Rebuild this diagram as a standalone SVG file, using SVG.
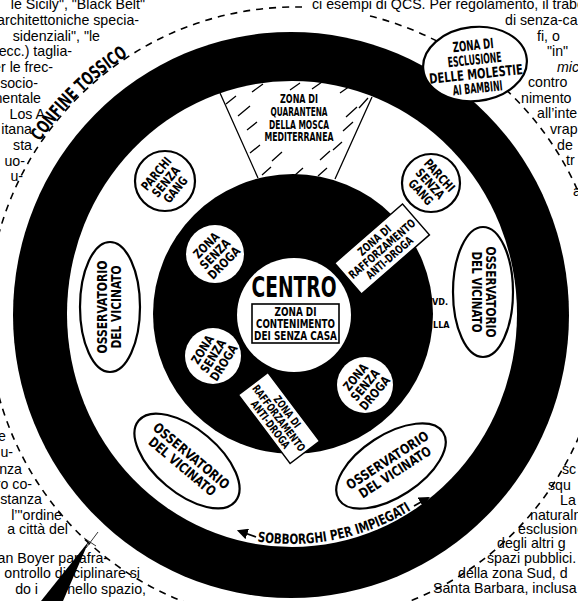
<svg xmlns="http://www.w3.org/2000/svg" width="578" height="601" viewBox="0 0 578 601">
<defs>
<style>
.bt{font-family:"Liberation Sans",Arial,sans-serif;font-size:14.2px;fill:#000}
.be{text-anchor:end}
.lb{font-family:"Liberation Sans Narrow","DejaVu Sans Condensed","Arial Narrow",sans-serif;font-weight:bold;text-anchor:middle;fill:#000}
.ol{fill:#fff;stroke:#000;stroke-width:2.2}
.rb{fill:#fff;stroke:#000;stroke-width:1.5}
.dash{fill:none;stroke:#000;stroke-width:1.6;stroke-dasharray:7 6}
.hl{stroke:#000;stroke-width:1.3;fill:none}
</style>
<marker id="ah" viewBox="0 0 10 10" refX="8" refY="5" markerWidth="11" markerHeight="11" orient="auto" markerUnits="userSpaceOnUse"><path d="M0 0 L10 5 L0 10 z" fill="#000"/></marker>
<path id="confPath" d="M5.6 209.3 A309 309 0 0 1 190.3 24.6"/>
<path id="sobPath" d="M143.8 490.4 A229 229 0 0 0 506.2 393.3"/>
</defs>
<rect width="578" height="601" fill="#fff"/>

<g id="ring-suburbs">
<ellipse cx="291" cy="315" rx="278" ry="283" fill="#000"/>
<ellipse cx="292" cy="314" rx="225" ry="233" fill="#fff"/>
</g>

<g id="zona-quarantena">
<path class="hl" d="M220 93 L258 178 M372 97 L335 179" stroke-width="1.6"/>
<path class="hl" d="M252 92 l11 -8 M290 90 l10 -7 M312 89 l10 -7 M340 93 l10 -7 M226 104 l10 -8 M359 108 l9 -10 M238 116 l12 -10 M346 117 l11 -10 M247 130 l10 -8 M343 131 l10 -9 M250 153 l10 -8 M272 161 l10 -9 M320 160 l10 -9 M333 150 l9 -8 M262 175 l9 -8 M294 176 l9 -8 M318 176 l9 -8"/>
<text class="lb" x="299" y="103" font-size="12" textLength="38" lengthAdjust="spacingAndGlyphs">ZONA DI</text>
<text class="lb" x="299" y="116" font-size="12" textLength="57" lengthAdjust="spacingAndGlyphs">QUARANTENA</text>
<text class="lb" x="299" y="128.5" font-size="12" textLength="60" lengthAdjust="spacingAndGlyphs">DELLA MOSCA</text>
<text class="lb" x="299" y="141" font-size="12" textLength="69" lengthAdjust="spacingAndGlyphs">MEDITERRANEA</text>
</g>

<g id="parchi-senza-gang-1" transform="translate(165,181)">
<circle class="ol" r="30"/>
<g transform="rotate(-50)">
<text class="lb" y="-7" font-size="12.5" textLength="39" lengthAdjust="spacingAndGlyphs">PARCHI</text>
<text class="lb" y="5.5" font-size="12.5" textLength="36" lengthAdjust="spacingAndGlyphs">SENZA</text>
<text class="lb" y="18" font-size="12.5" textLength="30" lengthAdjust="spacingAndGlyphs">GANG</text>
</g>
</g>

<g id="parchi-senza-gang-2" transform="translate(431,183)">
<circle class="ol" r="29"/>
<g transform="rotate(48)">
<text class="lb" y="-7" font-size="12.5" textLength="39" lengthAdjust="spacingAndGlyphs">PARCHI</text>
<text class="lb" y="5.5" font-size="12.5" textLength="36" lengthAdjust="spacingAndGlyphs">SENZA</text>
<text class="lb" y="18" font-size="12.5" textLength="30" lengthAdjust="spacingAndGlyphs">GANG</text>
</g>
</g>

<g id="osservatorio-1" transform="translate(110,307)">
<ellipse class="ol" rx="30" ry="65"/>
<g transform="rotate(-90)">
<text class="lb" y="-3" font-size="13.5" textLength="93" lengthAdjust="spacingAndGlyphs">OSSERVATORIO</text>
<text class="lb" y="10.5" font-size="13.5" textLength="83" lengthAdjust="spacingAndGlyphs">DEL VICINATO</text>
</g>
</g>

<g id="osservatorio-2" transform="translate(483,292)">
<ellipse class="ol" rx="30" ry="65"/>
<g transform="rotate(90)">
<text class="lb" y="-3" font-size="13.5" textLength="91" lengthAdjust="spacingAndGlyphs">OSSERVATORIO</text>
<text class="lb" y="11" font-size="13.5" textLength="81" lengthAdjust="spacingAndGlyphs">DEL VICINATO</text>
</g>
</g>

<g id="osservatorio-3" transform="translate(187,461) rotate(40)">
<ellipse class="ol" rx="63" ry="32"/>
<text class="lb" y="-2" font-size="13.5" textLength="95" lengthAdjust="spacingAndGlyphs">OSSERVATORIO</text>
<text class="lb" y="12" font-size="13.5" textLength="83" lengthAdjust="spacingAndGlyphs">DEL VICINATO</text>
</g>

<g id="osservatorio-4" transform="translate(391,466) rotate(-33)">
<ellipse class="ol" rx="62" ry="31"/>
<text class="lb" y="-2" font-size="13.5" textLength="95" lengthAdjust="spacingAndGlyphs">OSSERVATORIO</text>
<text class="lb" y="12" font-size="13.5" textLength="83" lengthAdjust="spacingAndGlyphs">DEL VICINATO</text>
</g>

<g id="sobborghi">
<text class="lb" font-size="14"><textPath href="#sobPath" startOffset="126" textLength="160" lengthAdjust="spacingAndGlyphs" text-anchor="start">SOBBORGHI PER IMPIEGATI</textPath></text>
</g>

<g id="zona-droga-core">
<circle cx="293" cy="314" r="140" fill="#000"/>
</g>

<g id="zona-senza-droga-1" transform="translate(215,254)">
<circle r="29" fill="#fff"/>
<g transform="rotate(-45)">
<text class="lb" y="-8" font-size="12.5" textLength="31" lengthAdjust="spacingAndGlyphs">ZONA</text>
<text class="lb" y="4.5" font-size="12.5" textLength="37" lengthAdjust="spacingAndGlyphs">SENZA</text>
<text class="lb" y="17" font-size="12.5" textLength="40" lengthAdjust="spacingAndGlyphs">DROGA</text>
</g>
</g>

<g id="zona-senza-droga-2" transform="translate(213,356)">
<circle r="28" fill="#fff"/>
<g transform="rotate(-58)">
<text class="lb" y="-8" font-size="12.5" textLength="31" lengthAdjust="spacingAndGlyphs">ZONA</text>
<text class="lb" y="4.5" font-size="12.5" textLength="37" lengthAdjust="spacingAndGlyphs">SENZA</text>
<text class="lb" y="17" font-size="12.5" textLength="40" lengthAdjust="spacingAndGlyphs">DROGA</text>
</g>
</g>

<g id="zona-senza-droga-3" transform="translate(365,385)">
<circle r="28" fill="#fff"/>
<g transform="rotate(-50)">
<text class="lb" y="-8" font-size="12.5" textLength="31" lengthAdjust="spacingAndGlyphs">ZONA</text>
<text class="lb" y="4.5" font-size="12.5" textLength="37" lengthAdjust="spacingAndGlyphs">SENZA</text>
<text class="lb" y="17" font-size="12.5" textLength="40" lengthAdjust="spacingAndGlyphs">DROGA</text>
</g>
</g>

<g id="rafforzamento-1" transform="translate(382,249) rotate(-41)">
<rect class="rb" x="-45" y="-20.5" width="90" height="41"/>
<text class="lb" y="-7.5" font-size="11.5" textLength="40" lengthAdjust="spacingAndGlyphs">ZONA DI</text>
<text class="lb" y="4" font-size="11.5" textLength="84" lengthAdjust="spacingAndGlyphs">RAFFORZAMENTO</text>
<text class="lb" y="15.5" font-size="11.5" textLength="58" lengthAdjust="spacingAndGlyphs">ANTI-DROGA</text>
</g>

<g id="rafforzamento-2" transform="translate(279,418) rotate(53)">
<rect class="rb" x="-43" y="-18.5" width="86" height="37"/>
<text class="lb" y="-6.5" font-size="11" textLength="37" lengthAdjust="spacingAndGlyphs">ZONA DI</text>
<text class="lb" y="4" font-size="11" textLength="80" lengthAdjust="spacingAndGlyphs">RAFFORZAMENTO</text>
<text class="lb" y="14.5" font-size="11" textLength="57" lengthAdjust="spacingAndGlyphs">ANTI-DROGA</text>
</g>

<g id="centro">
<circle cx="294" cy="315" r="57" fill="#fff"/>
<text class="lb" x="294" y="297" font-size="28" textLength="85" lengthAdjust="spacingAndGlyphs">CENTRO</text>
<rect x="252" y="304" width="87" height="39" fill="#fff" stroke="#000" stroke-width="1.6"/>
<text class="lb" x="295.5" y="316" font-size="11.5" textLength="42" lengthAdjust="spacingAndGlyphs">ZONA DI</text>
<text class="lb" x="295.5" y="328" font-size="11.5" textLength="79" lengthAdjust="spacingAndGlyphs">CONTENIMENTO</text>
<text class="lb" x="295.5" y="340" font-size="11.5" textLength="83" lengthAdjust="spacingAndGlyphs">DEI SENZA CASA</text>
</g>

<g id="fragments-blvd">
<text class="lb" x="432" y="305" font-size="9" style="text-anchor:start">VD.</text>
<text class="lb" x="433" y="328" font-size="9" style="text-anchor:start">LLA</text>
</g>

<g id="page-text">
<text class="bt be" x="145" y="9">le Sicily", "Black Belt"</text>
<text class="bt be" x="139" y="25">architettoniche specia-</text>
<text class="bt be" x="100" y="40.5">sidenziali",  "le</text>
<text class="bt be" x="72" y="56">ecc.) taglia-</text>
<text class="bt be" x="53" y="72">er le frec-</text>
<text class="bt be" x="38" y="87.5">socio-</text>
<text class="bt be" x="41" y="103">nentale</text>
<text class="bt be" x="45" y="118.5">Los A</text>
<text class="bt be" x="32" y="134">itana</text>
<text class="bt be" x="32" y="150">sta</text>
<text class="bt be" x="25" y="165.5">uo-</text>
<text class="bt be" x="23" y="181">u-</text>

<text class="bt" x="312" y="9">ci esempi di QCS. Per regolamento, il trabo</text>
<text class="bt" x="505" y="25">di senza-ca</text>
<text class="bt" x="537" y="40.5">fi,  o</text>
<text class="bt" x="547" y="56">"in"</text>
<text class="bt" x="557" y="71.5" font-style="italic">mic</text>
<text class="bt" x="528" y="87">contro</text>
<text class="bt" x="521" y="102.5">nimento</text>
<text class="bt" x="537" y="118">all’inte</text>
<text class="bt" x="550" y="134">vrap</text>
<text class="bt" x="557" y="149.5">de</text>
<text class="bt" x="566" y="165">tr</text>
<text class="bt" x="573" y="196">a</text>

<text class="bt be" x="6" y="441">e</text>
<text class="bt be" x="13" y="457">u-</text>
<text class="bt be" x="22" y="474">nza</text>
<text class="bt be" x="32" y="489">ro co-</text>
<text class="bt be" x="42" y="504">stanza</text>
<text class="bt be" x="62" y="520">l’"ordine</text>
<text class="bt be" x="68" y="534">a  città  del</text>
<text class="bt be" x="108" y="563">ian Boyer parafra-</text>
<text class="bt be" x="140" y="578">ontrollo disciplinare si</text>
<text class="bt be" x="38" y="594">do i</text>
<text class="bt be" x="146" y="594">nello spazio,</text>

<text class="bt" x="562" y="474">sc</text>
<text class="bt" x="548" y="490">squ</text>
<text class="bt" x="560" y="505">La s</text>
<text class="bt" x="530" y="520">naturalm</text>
<text class="bt" x="518" y="534">esclusione</text>
<text class="bt" x="497" y="548">degli altri g</text>
<text class="bt" x="487" y="563">spazi pubblici.</text>
<text class="bt" x="458" y="578">della zona Sud, d</text>
<text class="bt" x="433" y="593">Santa Barbara, inclusa c</text>
</g>

<g id="connectors">
<path class="dash" d="M370 16 A308 308 0 1 1 305.1 7.1"/>
<path d="M256 537 L239 531" stroke="#000" stroke-width="1.8" marker-end="url(#ah)"/>
<path d="M414 506 L428 498" stroke="#000" stroke-width="1.8" marker-end="url(#ah)"/>
<path d="M89 541 L63 601 L41 601 Z" fill="#000"/>
<path d="M86 548 L98 532 M84 538 L96 546" stroke="#000" stroke-width="0.8"/>
</g>

<g id="confine-tossico">
<text class="lb" font-size="18"><textPath href="#confPath" startOffset="76" textLength="124" lengthAdjust="spacingAndGlyphs" text-anchor="start">CONFINE TOSSICO</textPath></text>
</g>

<g id="zona-esclusione" transform="translate(475,64) rotate(-6)">
<ellipse class="ol" rx="52" ry="37"/>
<text class="lb" y="-14" font-size="14" textLength="41" lengthAdjust="spacingAndGlyphs">ZONA DI</text>
<text class="lb" y="0.5" font-size="14" textLength="54" lengthAdjust="spacingAndGlyphs">ESCLUSIONE</text>
<text class="lb" y="15" font-size="14" textLength="94" lengthAdjust="spacingAndGlyphs">DELLE MOLESTIE</text>
<text class="lb" y="29" font-size="14" textLength="50" lengthAdjust="spacingAndGlyphs">AI BAMBINI</text>
</g>
</svg>
